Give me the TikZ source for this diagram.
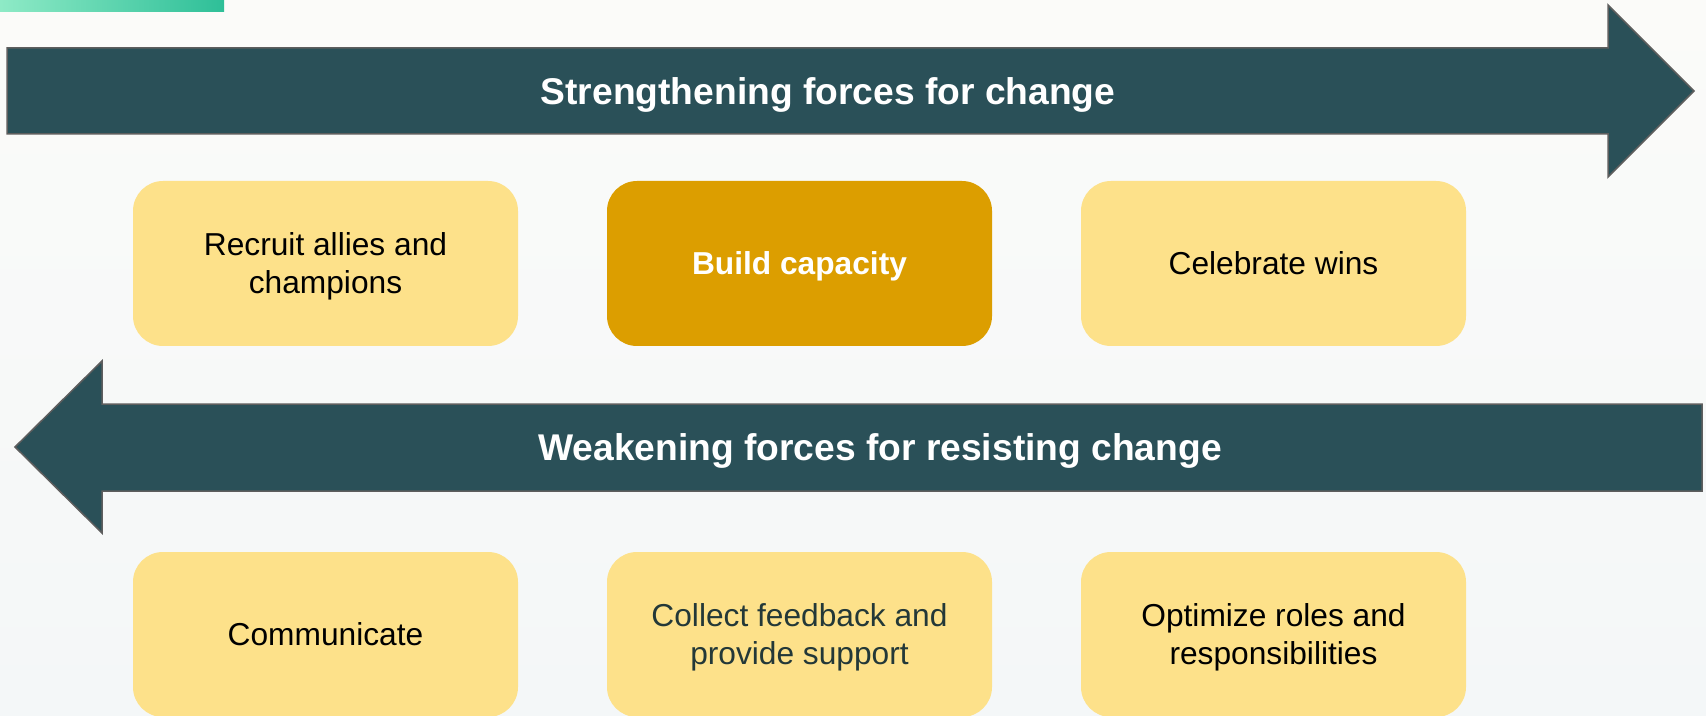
\documentclass[tikz,border=0pt]{standalone}
\usepackage{fontspec}
\setmainfont{Liberation Sans}
\definecolor{forcedark}{HTML}{2A5058}
\definecolor{edgegray}{HTML}{5E5E5E}
\definecolor{boxyellow}{HTML}{FDE18A}
\definecolor{boxgold}{HTML}{DC9E00}
\definecolor{bgtop}{HTML}{FBFBF9}
\definecolor{bgbot}{HTML}{F4F7F8}
\definecolor{barleft}{HTML}{8EEAC6}
\definecolor{barright}{HTML}{2EBF98}
\definecolor{slatetext}{HTML}{233838}
\begin{document}
\begin{tikzpicture}[x=0.5pt,y=-0.5pt,
  forcearrow/.style={fill=forcedark, draw=edgegray, line width=0.75pt, line join=miter},
  forcelabel/.style={text=white, font=\fontsize{18.6}{22}\selectfont\bfseries, inner sep=0pt,
    text height=13.3pt, text depth=0pt},
  stepbox/.style={rounded corners=15pt, minimum width=192.5pt, minimum height=82.5pt,
    fill=boxyellow, align=center, inner sep=0pt, text=black,
    text height=11.35pt, text depth=0pt,
    font=\fontsize{15.85}{19}\selectfont},
  twoline/.style={text height=30.35pt},
  keybox/.style={stepbox, fill=boxgold, text=white, font=\fontsize{15.85}{19}\selectfont\bfseries}]
\useasboundingbox (0,0) rectangle (1706,716);
\fill[top color=bgtop, bottom color=bgbot] (0,0) rectangle (1706,716);
% gradient bar
\fill[left color=barleft, right color=barright] (0,0) rectangle (224,12);
% top arrow
\draw[forcearrow] (7,48) -- (1608,48) -- (1608,5) -- (1694,91) -- (1608,177) -- (1608,134) -- (7,134) -- cycle;
\node[forcelabel] (strong) at (828,91) {Strengthening forces for change};
% bottom arrow
\draw[forcearrow] (1702,404) -- (102,404) -- (102,361) -- (15,447) -- (102,533) -- (102,491) -- (1702,491) -- cycle;
\node[forcelabel] (weak) at (880,447) {Weakening forces for resisting change};
% top row
\node[stepbox, twoline] (recruit) at (325.5,263.5) {Recruit allies and\\champions};
\node[keybox] (build) at (799.5,263.5) {Build capacity};
\node[stepbox] (celebrate) at (1273.5,263.5) {Celebrate wins};
% bottom row
\node[stepbox] (communicate) at (325.5,634.5) {Communicate};
\node[stepbox, twoline, text=slatetext] (feedback) at (799.5,634.5) {Collect feedback and\\provide support};
\node[stepbox, twoline] (optimize) at (1273.5,634.5) {Optimize roles and\\responsibilities};
\end{tikzpicture}
\end{document}
